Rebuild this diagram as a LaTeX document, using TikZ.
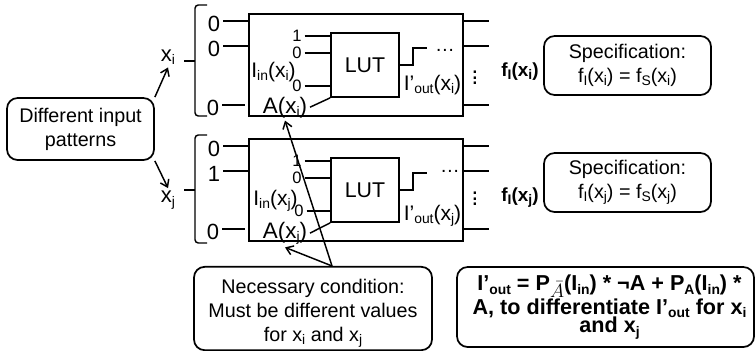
\documentclass[tikz,border=0pt]{standalone}
\usepackage{fontspec}
\usetikzlibrary{arrows.meta}
\setmainfont{Liberation Sans}
\newcommand{\lowsub}[1]{\raisebox{-0.3ex}{\fontsize{10.4}{10}\selectfont #1}}
\tikzset{
  lbl/.style={inner sep=2pt, font=\fontsize{14.8}{18}\selectfont},
  base lbl/.style={inner sep=2pt, anchor=base, font=\fontsize{15.8}{18}\selectfont},
  addr lbl/.style={inner sep=2pt, anchor=base, font=\fontsize{16.8}{18}\selectfont},
  big/.style={inner sep=2pt, font=\fontsize{16.5}{18}\selectfont},
  pin val/.style={big, text height=16pt, text depth=0pt},
  lut val/.style={inner sep=2pt, font=\fontsize{12.4}{14}\selectfont},
  block/.style={draw, line width=1.3pt, minimum width=160.5pt, minimum height=76.5pt},
  lut/.style={draw, line width=1.3pt, minimum width=51pt, minimum height=48pt, font=\fontsize{16}{18}\selectfont},
  note/.style={draw, line width=1.3pt, rounded corners=8pt, align=center, inner sep=0pt, lbl},
  wire/.style={line width=1.1pt},
}
\begin{document}
\begin{tikzpicture}[x=0.75pt, y=-0.75pt, >={Straight Barb[length=5pt, width=7pt]}]
    \useasboundingbox (0, 0) rectangle (755, 350);

    % Blocks
    \node[block] (blockI) at (356, 65) {};
    \node[block] (blockJ) at (356, 190) {};
    \node[lut] (lutI) at (365, 65) {LUT};
    \node[lut] (lutJ) at (365, 190) {LUT};

    % Braces
    \draw[wire, rounded corners=2.5pt] (207, 5) -- (195, 5) -- (195, 116) -- (207, 116);
    \draw[wire] (184, 61) -- (195, 61);
    \draw[wire, rounded corners=2.5pt] (207, 135) -- (195, 135) -- (195, 243) -- (207, 243);
    \draw[wire] (184, 190) -- (195, 190);

    % Input pins, x_i
    \node[pin val] (pinIa) at (214, 21) {0};
    \node[pin val] (pinIb) at (214, 46) {0};
    \node[pin val] (pinIc) at (213, 105) {0};
    \draw[wire] (pinIa.east) -- (pinIa -| blockI.west);
    \draw[wire] (pinIb.east) -- (pinIb -| blockI.west);
    \draw[wire, shorten >=2.25pt] (pinIc.east) -- (pinIc -| blockI.west);

    % Input pins, x_j
    \node[pin val] (pinJa) at (214, 146) {0};
    \node[pin val] (pinJb) at (214, 171) {1};
    \node[pin val] (pinJc) at (213, 229) {0};
    \draw[wire] (pinJa.east) -- (pinJa -| blockJ.west);
    \draw[wire] (pinJb.east) -- (pinJb -| blockJ.west);
    \draw[wire, shorten >=2.25pt] (pinJc.east) -- (pinJc -| blockJ.west);

    % Output stubs
    \draw[wire] (pinIa -| blockI.east) -- ++(25, 0);
    \draw[wire] (pinIb -| blockI.east) -- ++(25, 0);
    \draw[wire] (pinIc -| blockI.east) -- ++(25, 0);
    \draw[wire] (pinJa -| blockJ.east) -- ++(25, 0);
    \draw[wire] (pinJb -| blockJ.east) -- ++(25, 0);
    \draw[wire] (pinJc -| blockJ.east) -- ++(25, 0);

    % LUT inputs, x_i
    \node[lut val] (valIa) at (297, 36) {1};
    \node[lut val] (valIb) at (297, 53) {0};
    \node[lut val] (valIc) at (297, 86) {0};
    \draw[wire] (valIa.east) -- (valIa -| lutI.west);
    \draw[wire] (valIb.east) -- (valIb -| lutI.west);
    \draw[wire] (valIc.east) -- (valIc -| lutI.west);

    % LUT inputs, x_j
    \node[lut val] (valJa) at (297, 161) {1};
    \node[lut val] (valJb) at (297, 178) {0};
    \node[lut val] (valJc) at (299, 211) {0};
    \draw[wire] (valJa.east) -- (valJa -| lutJ.west);
    \draw[wire] (valJb.east) -- (valJb -| lutJ.west);
    \draw[wire] (valJc.east) -- (valJc -| lutJ.west);

    % Labels inside the blocks
    \node[base lbl] (inI) at (273.5, 77) {I\lowsub{in}(x\lowsub{i})};
    \node[base lbl] (inJ) at (275.5, 205) {I\lowsub{in}(x\lowsub{j})};
    \node[addr lbl] (addrI) at (285, 113) {A(x\lowsub{i})};
    \node[addr lbl] (addrJ) at (285, 238) {A(x\lowsub{j})};
    \node[base lbl] (outI) at (432.5, 90) {I’\lowsub{out}(x\lowsub{i})};
    \node[base lbl] (outJ) at (432.5, 220) {I’\lowsub{out}(x\lowsub{j})};
    \draw[wire] (addrI.east) -- (lutI.south west);
    \draw[wire] (addrJ.east) -- (lutJ.south west);

    % Output of each LUT
    \draw[wire] (lutI.east) -- ++(13, 0) -- ++(0, -17) -- ++(14, 0);
    \draw[wire] (lutJ.east) -- ++(13, 0) -- ++(0, -17) -- ++(14, 0);
    \node[lbl] (dotsI) at (445, 50) {\ldots};
    \node[lbl] (dotsJ) at (450, 171) {\ldots};
    \node[lbl, font=\fontsize{18}{18}\selectfont] (vdotsI) at (475, 74) {$\vdots$};
    \node[lbl, font=\fontsize{18}{18}\selectfont] (vdotsJ) at (475, 195) {$\vdots$};

    % Input patterns
    \node[note, minimum width=110.25pt, minimum height=46.5pt] (patterns) at (80.5, 129) {Different input\\patterns};
    \node[big] (xI) at (168, 57) {x\lowsub{i}};
    \node[big] (xJ) at (168, 200) {x\lowsub{j}};
    \draw[->, wire] (patterns.north east) -- (xI.south);
    \draw[->, wire] (patterns.south east) -- (xJ.north);

    % Specifications
    \node[lbl, font=\fontsize{14.2}{18}\selectfont\bfseries] (fI) at (520, 72) {f\lowsub{I}(x\lowsub{i})};
    \node[lbl, font=\fontsize{14.2}{18}\selectfont\bfseries] (fJ) at (520, 198) {f\lowsub{I}(x\lowsub{j})};
    \node[note, minimum width=125.25pt, minimum height=44.25pt] (specI) at (627.5, 65.5) {Specification:\\f\lowsub{I}(x\lowsub{i}) = f\lowsub{S}(x\lowsub{i})};
    \node[note, minimum width=125.25pt, minimum height=44.25pt] (specJ) at (627.5, 182.5) {Specification:\\f\lowsub{I}(x\lowsub{j}) = f\lowsub{S}(x\lowsub{j})};

    % Necessary condition
    \node[note, minimum width=178.5pt, minimum height=59.25pt] (cond) at (313, 308.5) {\rule{0pt}{18pt}Necessary condition:\\Must be different values\\for x\lowsub{i} and x\lowsub{j}};
    \draw[->, wire] ([xshift=14.25pt]cond.north) -- (addrI.south);
    \draw[->, wire] ([xshift=14.25pt]cond.north) -- (addrJ.south);

    % Formula
    \node[note, font=\fontsize{16.2}{18.75}\selectfont\bfseries, minimum width=222.75pt, minimum height=60pt] (rule) at (605.5, 307) {\hspace*{6pt}I’\lowsub{out} = P\raisebox{-0.6ex}{\fontsize{14}{14}\selectfont$\bar{A}$}(I\lowsub{in}) * ¬A + P\lowsub{A}(I\lowsub{in}) *\\[-1pt]\hspace*{6pt}A, to differentiate I’\lowsub{out} for x\lowsub{i}\\[-5pt]\hspace*{6pt}and x\lowsub{j}};
\end{tikzpicture}
\end{document}
